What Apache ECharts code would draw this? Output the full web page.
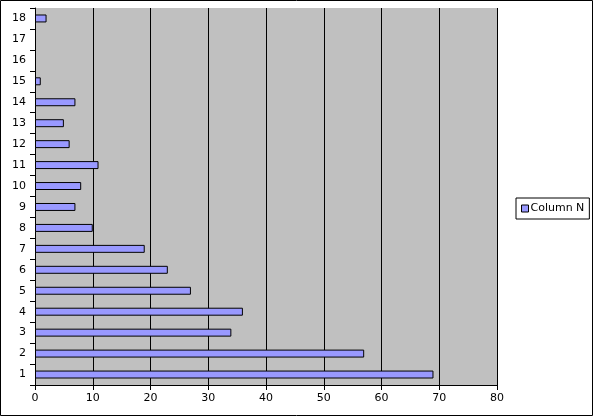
<!DOCTYPE html>
<html><head><meta charset="utf-8">
<script src="https://cdn.jsdelivr.net/npm/echarts@6/dist/echarts.min.js"></script>
<style>html,body{margin:0;padding:0;background:#fff}#c{width:598px;height:417px}</style>
</head><body><div id="c"></div>
<script>
const categories = ['1','2','3','4','5','6','7','8','9','10','11','12','13','14','15','16','17','18'];
const columnN = [69,57,34,36,27,23,19,10,7,8,11,6,5,7,1,0,0,2];
const xTicks = [0,10,20,30,40,50,60,70,80];
const seriesName = 'Column N';

const chart = echarts.init(document.getElementById('c'), null, {renderer:'canvas'});
chart.setOption({
  animation:false,
  backgroundColor:'#fff',
  textStyle:{fontFamily:'DejaVu Sans'},
  graphic:[{type:'rect',shape:{x:0.5,y:0.5,width:592,height:415},style:{fill:null,stroke:'#000',lineWidth:1},z:-1}],
  grid:{left:35,right:101,top:8,bottom:32,show:true,backgroundColor:'#c0c0c0',borderWidth:0},
  legend:{
    orient:'vertical', left:516, top:198,
    data:[seriesName],
    icon:'rect', itemWidth:7, itemHeight:7, itemGap:4,
    borderColor:'#000', borderWidth:1, padding:[5,5,5,5],
    textStyle:{fontSize:11,color:'#000',fontFamily:'DejaVu Sans',padding:[0,0,0,-3]},
    itemStyle:{borderColor:'#000',borderWidth:1}
  },
  xAxis:{
    type:'value', min:xTicks[0], max:xTicks[xTicks.length-1], interval:10,
    axisLine:{show:true,lineStyle:{color:'#000'}},
    axisTick:{show:true,length:5,lineStyle:{color:'#000'}},
    axisLabel:{color:'#000',fontSize:11,margin:8,fontFamily:'DejaVu Sans'},
    splitLine:{show:true,lineStyle:{color:'#000',width:1}}
  },
  yAxis:{
    type:'category', data:categories,
    axisLine:{show:true,lineStyle:{color:'#000'}},
    axisTick:{show:true,length:5,alignWithLabel:false,lineStyle:{color:'#000'}},
    axisLabel:{color:'#000',fontSize:11,margin:9,fontFamily:'DejaVu Sans'},
    splitLine:{show:false}
  },
  series:[{
    name:seriesName, type:'bar',
    data:columnN.map(v => v === 0 ? {value:v, itemStyle:{borderWidth:0, opacity:0}} : v),
    barCategoryGap:'62%',
    itemStyle:{color:'#9999ff',borderColor:'#000',borderWidth:1}
  }]
});
</script></body></html>
